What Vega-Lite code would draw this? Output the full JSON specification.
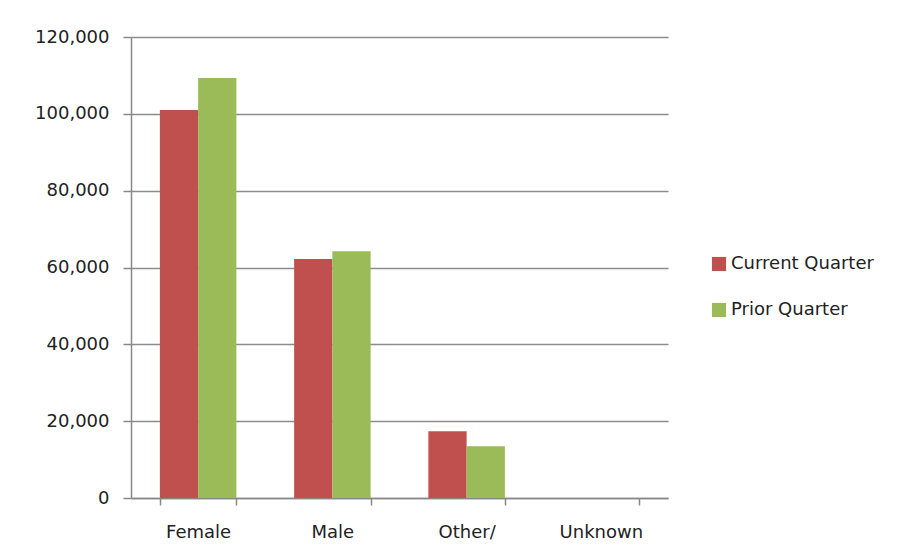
{
  "$schema": "https://vega.github.io/schema/vega-lite/v6.json",
  "width": 537,
  "height": 461,
  "autosize": {"type": "none"},
  "padding": {"left": 131, "top": 37, "right": 250, "bottom": 60},
  "background": "white",
  "data": {
    "values": [
      {"gender": "Female", "period": "Current Quarter", "count": 101000},
      {"gender": "Female", "period": "Prior Quarter", "count": 109300},
      {"gender": "Male", "period": "Current Quarter", "count": 62200},
      {"gender": "Male", "period": "Prior Quarter", "count": 64200},
      {"gender": "Other/", "period": "Current Quarter", "count": 17400},
      {"gender": "Other/", "period": "Prior Quarter", "count": 13500},
      {"gender": "Unknown", "period": "Current Quarter", "count": 0},
      {"gender": "Unknown", "period": "Prior Quarter", "count": 0}
    ]
  },
  "mark": {"type": "bar"},
  "encoding": {
    "x": {
      "field": "gender",
      "type": "nominal",
      "sort": null,
      "title": null,
      "scale": {"paddingInner": 0.43, "paddingOuter": 0.215},
      "axis": {
        "labelAngle": 0,
        "tickBand": "extent",
        "tickSize": 7,
        "tickColor": "#888888",
        "tickWidth": 1.5,
        "domainColor": "#888888",
        "domainWidth": 1.5,
        "labelFont": "DejaVu Sans",
        "labelFontSize": 18,
        "labelColor": "#222222",
        "labelPadding": 18,
        "grid": false
      }
    },
    "xOffset": {"field": "period", "type": "nominal", "sort": null},
    "y": {
      "field": "count",
      "type": "quantitative",
      "title": null,
      "scale": {"domain": [0, 120000], "nice": false},
      "axis": {
        "values": [0, 20000, 40000, 60000, 80000, 100000, 120000],
        "format": ",d",
        "tickSize": 8,
        "tickColor": "#888888",
        "tickWidth": 1.5,
        "domainColor": "#888888",
        "domainWidth": 1.5,
        "gridColor": "#8c8c8c",
        "gridWidth": 1.5,
        "labelFont": "DejaVu Sans",
        "labelFontSize": 18,
        "labelColor": "#222222",
        "labelPadding": 14
      }
    },
    "color": {
      "field": "period",
      "type": "nominal",
      "sort": null,
      "scale": {"domain": ["Current Quarter", "Prior Quarter"], "range": ["#C0504D", "#9BBB59"]},
      "legend": {
        "title": null,
        "orient": "none",
        "legendX": 579,
        "legendY": 218,
        "symbolType": "square",
        "symbolSize": 200,
        "symbolStrokeWidth": 0,
        "labelFont": "DejaVu Sans",
        "labelFontSize": 18,
        "labelColor": "#222222",
        "rowPadding": 28,
        "labelOffset": 3
      }
    }
  },
  "config": {"view": {"stroke": null}}
}
